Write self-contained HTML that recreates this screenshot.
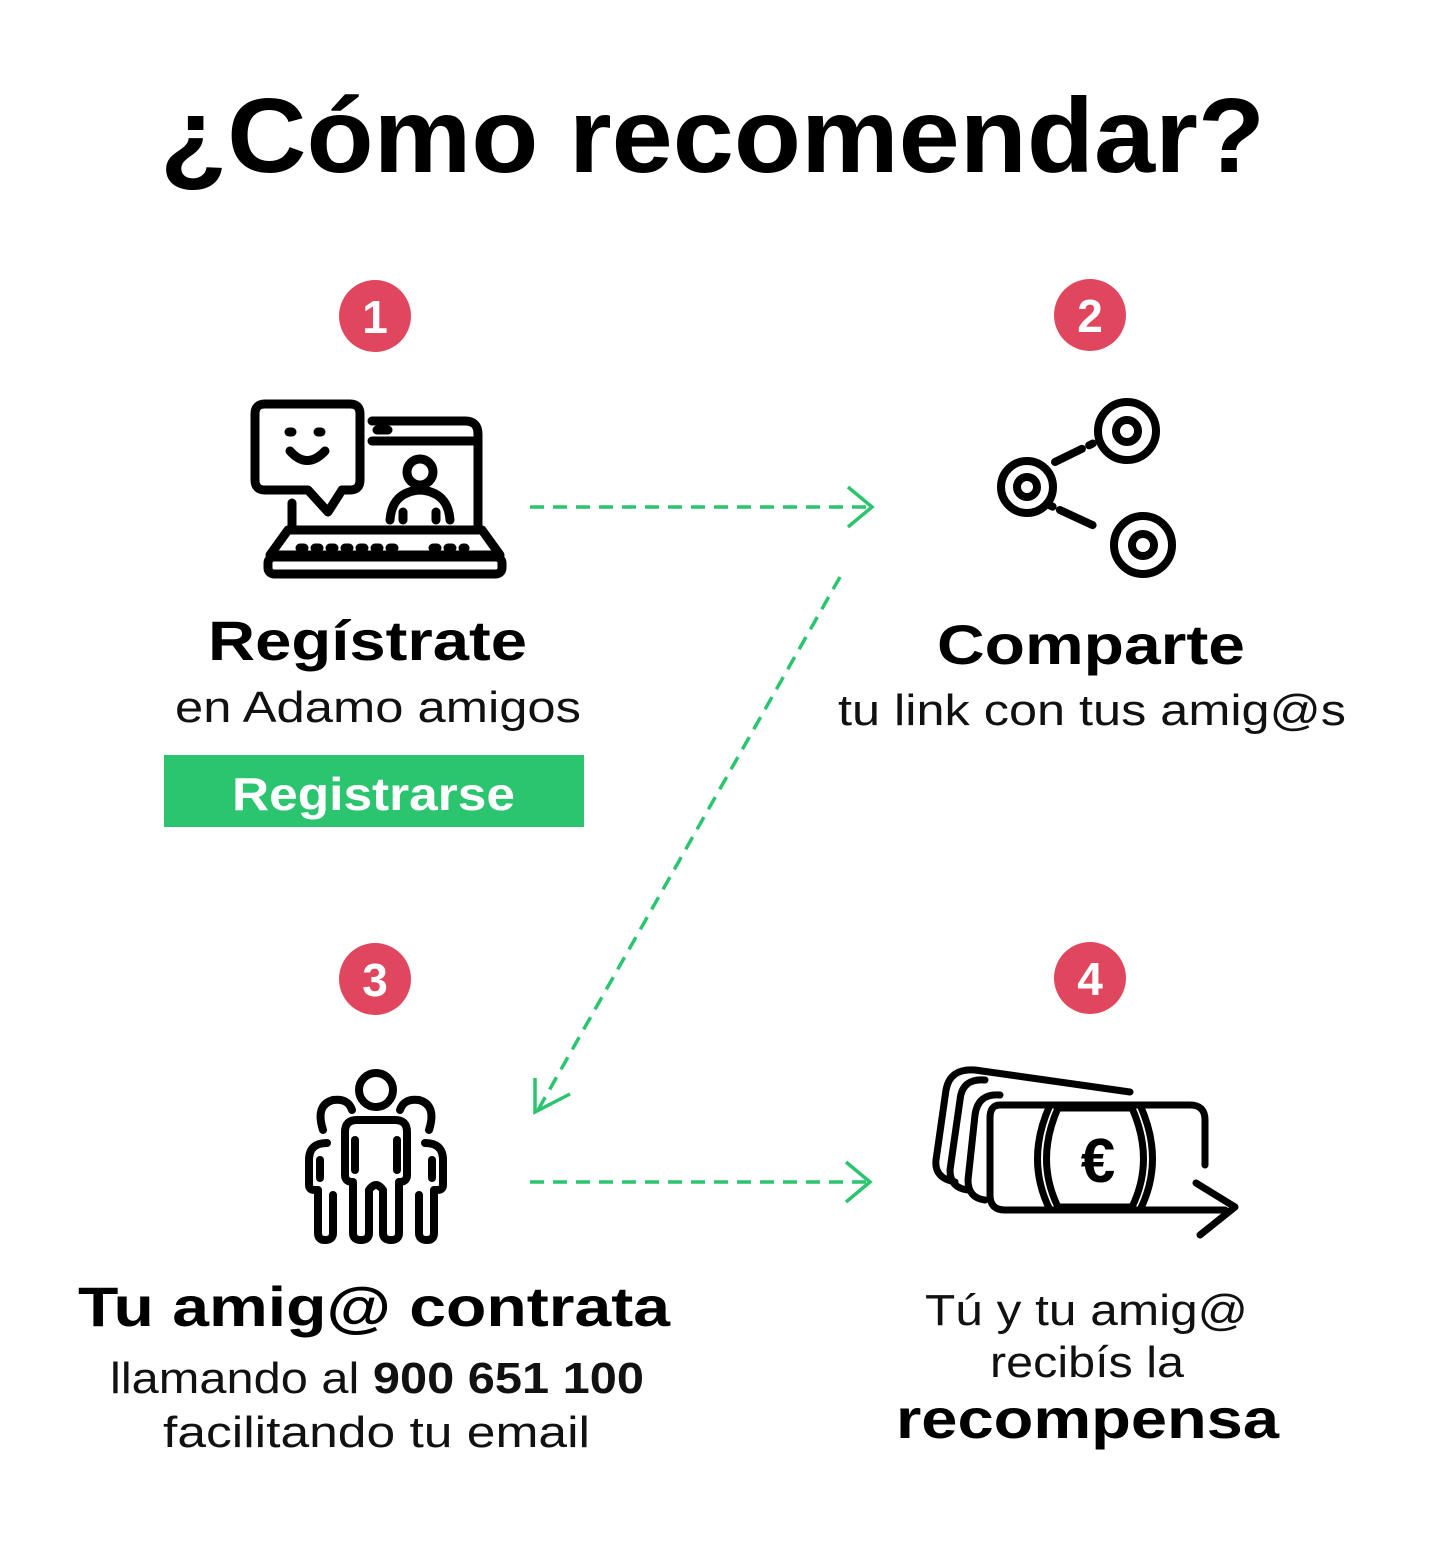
<!DOCTYPE html>
<html><head><meta charset="utf-8"><style>html,body{margin:0;padding:0;background:#fff}svg{display:block}</style></head><body>
<svg width="1429" height="1552" viewBox="0 0 1429 1552" xmlns="http://www.w3.org/2000/svg" font-family="Liberation Sans, sans-serif">
<rect width="1429" height="1552" fill="#fff"/>
<text x="160" y="172" font-size="106" font-weight="bold" textLength="1105" lengthAdjust="spacingAndGlyphs">¿Cómo recomendar?</text>
<g fill="#e0475f"><circle cx="375" cy="316" r="36"/><circle cx="1090" cy="315" r="36"/><circle cx="375" cy="979" r="36"/><circle cx="1090" cy="978" r="36"/></g>
<g fill="#fff" font-size="46" font-weight="bold" text-anchor="middle"><text x="375" y="333">1</text><text x="1090" y="332">2</text><text x="375" y="996">3</text><text x="1090" y="995">4</text></g>
<g stroke="#2bc46f" stroke-width="3.5" fill="none">
<line x1="530" y1="507" x2="870" y2="507" stroke-dasharray="14 9"/><polyline points="848,487 872,507 848,527"/>
<line x1="530" y1="1182" x2="868" y2="1182" stroke-dasharray="14 9"/><polyline points="846,1162 870,1182 846,1202"/>
<line x1="840" y1="577" x2="538" y2="1110" stroke-dasharray="14 9"/><polyline points="535,1078 535,1112 570,1094"/>
</g>
<g stroke="#000" stroke-width="9" fill="none" stroke-linecap="round" stroke-linejoin="round">
<path d="M265,404 H350 Q360,404 360,414 V480 Q360,490 350,490 H342 L328,512 L308,490 H265 Q255,490 255,480 V414 Q255,404 265,404 Z"/>
<line x1="289" y1="432" x2="292" y2="432"/><line x1="318" y1="432" x2="321" y2="432"/>
<path d="M290,451 Q307,470 325,451"/>
<path d="M372,421 H465 Q478,421 478,434 V528"/><line x1="372" y1="441" x2="478" y2="441"/><line x1="377" y1="430" x2="388" y2="430"/>
<line x1="292" y1="503" x2="292" y2="528"/>
<circle cx="420" cy="472" r="13"/><path d="M390,520 Q392,492 420,490 Q448,492 450,520"/><line x1="403" y1="512" x2="403" y2="520"/><line x1="436" y1="512" x2="436" y2="520"/>
<path d="M288,530 H482 L500,555 H270 Z"/><rect x="268" y="557" width="234" height="17" rx="6"/>
<line x1="300" y1="548" x2="395" y2="548" stroke-dasharray="4 11"/><line x1="433" y1="548" x2="465" y2="548" stroke-dasharray="4 11"/>
</g>
<g stroke="#000" stroke-width="8" fill="none" stroke-linecap="round">
<circle cx="1127" cy="431" r="29"/><circle cx="1127" cy="431" r="11"/>
<circle cx="1027" cy="487" r="26"/><circle cx="1027" cy="487" r="10"/>
<circle cx="1143" cy="545" r="29"/><circle cx="1143" cy="545" r="11"/>
<line x1="1055" y1="462" x2="1098" y2="441" stroke-dasharray="30 8 4 40"/>
<line x1="1049" y1="505" x2="1114" y2="535" stroke-dasharray="4 8 36 40"/>
</g>
<g stroke="#000" stroke-width="8" fill="none" stroke-linecap="round" stroke-linejoin="round">
<circle cx="376" cy="1090" r="17"/>
<path d="M345,1175 V1132 Q345,1120 357,1120 H395 Q407,1120 407,1132 V1175 Q407,1182 399,1182 V1233 Q399,1240 391,1240 Q383,1240 383,1233 V1190 Q376,1180 369,1190 V1233 Q369,1240 361,1240 Q353,1240 353,1233 V1182 Q345,1182 345,1175 Z"/>
<line x1="355" y1="1140" x2="355" y2="1170"/><line x1="397" y1="1140" x2="397" y2="1170"/>
<path d="M323,1130 Q315,1105 333,1100 Q348,1098 352,1110"/><path d="M429,1130 Q437,1105 419,1100 Q404,1098 400,1110"/>
<path d="M327,1143 Q309,1143 309,1160 V1185 Q309,1190 315,1190 L318,1190 V1233 Q318,1240 325,1240 Q333,1240 333,1233 V1195"/>
<path d="M425,1143 Q443,1143 443,1160 V1185 Q443,1190 437,1190 L434,1190 V1233 Q434,1240 427,1240 Q419,1240 419,1233 V1195"/>
<line x1="320" y1="1160" x2="320" y2="1178"/><line x1="432" y1="1160" x2="432" y2="1178"/>
</g>
<g stroke="#000" stroke-width="7" fill="none" stroke-linecap="round" stroke-linejoin="round">
<path d="M1130,1092 L975,1070 Q950,1068 946,1090 L936,1160 Q934,1178 955,1182"/>
<path d="M985,1080 Q962,1078 960,1100 L950,1170 Q950,1188 968,1190"/>
<path d="M1000,1095 Q978,1093 975,1115 L968,1180 Q968,1198 985,1200"/>
<path d="M1000,1105 H1190 Q1205,1105 1205,1120 V1165"/>
<path d="M1000,1105 Q990,1105 990,1118 V1195 Q990,1210 1005,1210 H1225"/>
<path d="M1196,1183 L1235,1207 L1200,1235"/>
<path d="M1050,1105 Q1025,1160 1050,1210"/><path d="M1140,1105 Q1165,1160 1140,1210"/>
<path d="M1058,1108 Q1035,1160 1058,1207 H1132 Q1155,1160 1132,1108 Z"/>
</g>
<text x="1098" y="1182" font-size="62" font-weight="bold" text-anchor="middle">€</text>
<g font-weight="bold" font-size="56">
<text x="208" y="660" textLength="319" lengthAdjust="spacingAndGlyphs">Regístrate</text>
<text x="937" y="664" textLength="308" lengthAdjust="spacingAndGlyphs">Comparte</text>
<text x="78" y="1326" textLength="592" lengthAdjust="spacingAndGlyphs">Tu amig@ contrata</text>
<text x="896" y="1438" textLength="383" lengthAdjust="spacingAndGlyphs">recompensa</text>
</g>
<rect x="164" y="755" width="420" height="72" fill="#2bc46f"/>
<text x="232" y="810" font-size="46" font-weight="bold" fill="#fff" textLength="283" lengthAdjust="spacingAndGlyphs">Registrarse</text>
<g font-size="44" fill="#111">
<text x="175" y="722" textLength="406" lengthAdjust="spacingAndGlyphs">en Adamo amigos</text>
<text x="838" y="725" textLength="508" lengthAdjust="spacingAndGlyphs">tu link con tus amig@s</text>
<text x="110" y="1393" textLength="534" lengthAdjust="spacingAndGlyphs">llamando al <tspan font-weight="bold">900 651 100</tspan></text>
<text x="163" y="1447" textLength="427" lengthAdjust="spacingAndGlyphs">facilitando tu email</text>
<text x="925" y="1325" textLength="323" lengthAdjust="spacingAndGlyphs">Tú y tu amig@</text>
<text x="990" y="1377" textLength="194" lengthAdjust="spacingAndGlyphs">recibís la</text>
</g>
</svg>
</body></html>
